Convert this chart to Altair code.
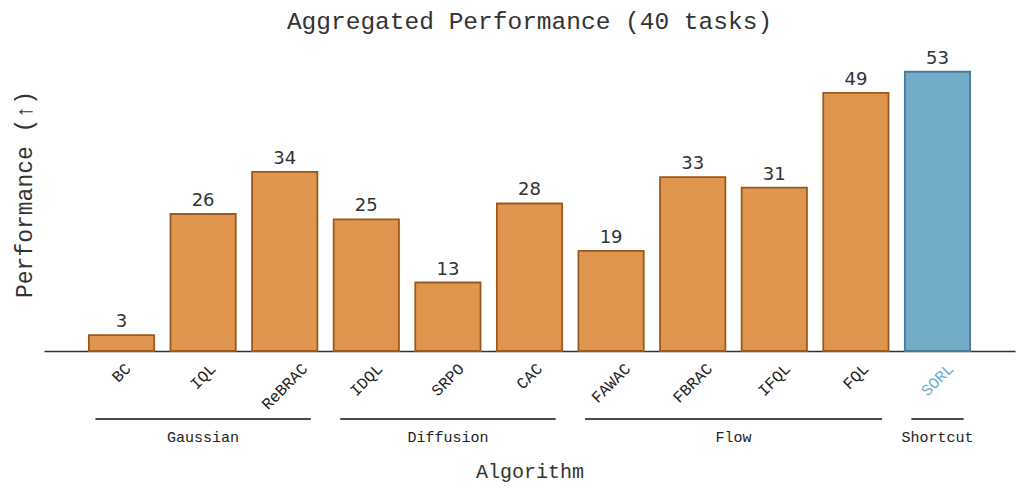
import altair as alt
import pandas as pd

# ---- data ----
algorithms = ["BC", "IQL", "ReBRAC", "IDQL", "SRPO", "CAC",
              "FAWAC", "FBRAC", "IFQL", "FQL", "SORL"]
performance = [3, 26, 34, 25, 13, 28, 19, 33, 31, 49, 53]
highlight = "SORL"

group_names = ["Gaussian", "Diffusion", "Flow", "Shortcut"]
group_first = [0, 3, 6, 10]
group_last = [2, 5, 9, 10]

# ---- layout constants ----
W, H = 971, 314
YMAX = 59.6
PXU = H / YMAX  # pixels per unit
FONT = "Liberation Mono"
ORANGE, ORANGE_EDGE = "#E0954E", "#9A5A1B"
BLUE, BLUE_EDGE = "#72ACC8", "#4A7B8E"

bars_df = pd.DataFrame({
    "idx": list(range(len(algorithms))),
    "algo": algorithms,
    "perf": performance,
})
bars_df["kind"] = ["ours" if a == highlight else "base" for a in algorithms]

groups_df = pd.DataFrame({
    "name": group_names,
    "first": group_first,
    "last": group_last,
})

xscale = alt.Scale(domain=[-0.95, 10.95], nice=False, zero=False)
yscale = alt.Scale(domain=[0, YMAX], nice=False, zero=True)

AX = alt.Axis(title="Algorithm", labels=False, ticks=False, grid=False,
              domain=True, domainColor="#333333", domainWidth=1.5,
              titlePadding=110, titleFont=FONT, titleFontSize=20,
              titleFontWeight="normal", titleColor="#333333")
AY = alt.Axis(title="Performance (↑)", labels=False, ticks=False, grid=False,
              domain=False, titleX=-20, titleY=157, titleBaseline="middle",
              titleFont=FONT, titleFontSize=23, titleFontWeight="normal",
              titleColor="#333333")


def X(field):
    return alt.X(field, scale=xscale, axis=AX, title="Algorithm")


def Y(field):
    return alt.Y(field, scale=yscale, axis=AY, title="Performance (↑)")


base = alt.Chart(bars_df)

bars = base.transform_calculate(
    x1="datum.idx - 0.4", x2="datum.idx + 0.4"
).mark_bar(strokeWidth=1.8).encode(
    x=X("x1:Q"),
    x2="x2:Q",
    y=Y("perf:Q"),
    y2=alt.datum(0),
    fill=alt.Fill("kind:N", scale=alt.Scale(domain=["base", "ours"], range=[ORANGE, BLUE]), legend=None),
    stroke=alt.Stroke("kind:N", scale=alt.Scale(domain=["base", "ours"], range=[ORANGE_EDGE, BLUE_EDGE]), legend=None),
)

values = base.mark_text(baseline="alphabetic", dy=-8, font="DejaVu Sans",
                        fontSize=18, color="#333333").encode(
    x=X("idx:Q"),
    y=Y("perf:Q"),
    text="perf:Q",
)

ticklabels = base.transform_calculate(
    ty=f"-(11 + 0.354*(length(datum.algo)*9.6 + 12))/{PXU}"
).mark_text(angle=315, align="center", baseline="middle", font=FONT, fontSize=16).encode(
    x=X("idx:Q"),
    y=Y("ty:Q"),
    text="algo:N",
    color=alt.Color("kind:N", scale=alt.Scale(domain=["base", "ours"], range=["#222222", BLUE]), legend=None),
)

gbase = alt.Chart(groups_df)
grules = gbase.transform_calculate(
    gx1="datum.first - 0.32", gx2="datum.last + 0.32", gy=f"-68/{PXU}"
).mark_rule(color="#111111", strokeWidth=1.6).encode(
    x=X("gx1:Q"),
    x2="gx2:Q",
    y=Y("gy:Q"),
)
glabels = gbase.transform_calculate(
    gx="(datum.first + datum.last)/2", gy=f"-86/{PXU}"
).mark_text(baseline="middle", align="center", font=FONT, fontSize=15, color="#222222").encode(
    x=X("gx:Q"),
    y=Y("gy:Q"),
    text="name:N",
)

chart = alt.layer(bars, values, ticklabels, grules, glabels).properties(
    width=W, height=H,
    title=alt.Title("Aggregated Performance (40 tasks)", font=FONT, fontSize=24.5,
                    fontWeight="normal", offset=3, color="#333333"),
    autosize="none",
    padding={"left": 36, "top": 29, "right": 1, "bottom": 137},
).configure_view(stroke=None)

chart.save("out.html", embed_options={"renderer": "svg", "actions": False})
